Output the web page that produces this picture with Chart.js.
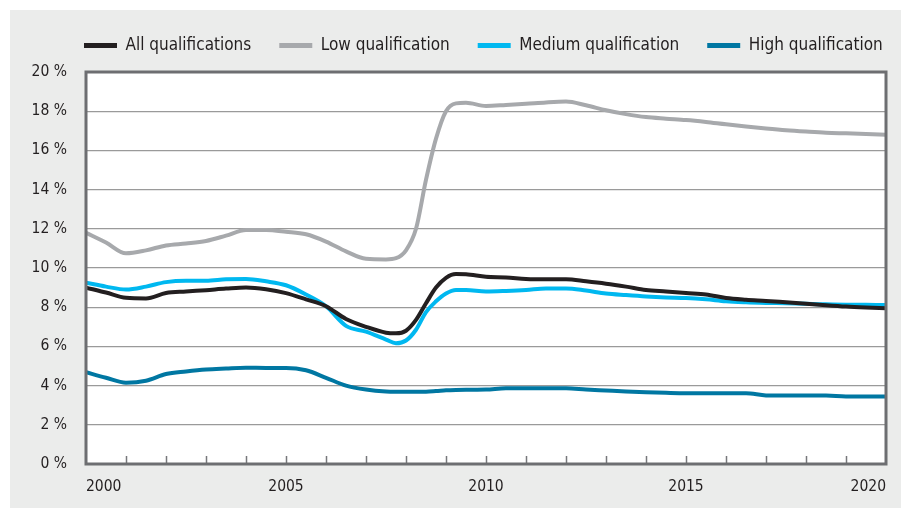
<!DOCTYPE html>
<html>
<head>
<meta charset="utf-8">
<title>Unemployment by qualification</title>
<script src="https://cdn.jsdelivr.net/npm/chart.js@4.4.1/dist/chart.umd.min.js"></script>
<style>
    html, body { margin: 0; padding: 0; background: #fff; }
    #wrap { position: absolute; left: 10px; top: 10px; width: 891px; height: 498px; background: #ebeceb; }
    canvas { display: block; }
</style>
</head>
<body>
<div id="wrap"><canvas id="chart" width="891" height="498"></canvas></div>
<script>
// x positions (years), half-yearly, quarterly around the 2008 jump
var years = [2000, 2000.5, 2001, 2001.5, 2002, 2002.5, 2003, 2003.5, 2004, 2004.5,
    2005, 2005.5, 2006, 2006.5, 2007, 2007.5, 2007.75, 2008, 2008.25, 2008.5,
    2008.75, 2009, 2009.25, 2009.5, 2010, 2010.5, 2011, 2011.5, 2012, 2012.5,
    2013, 2013.5, 2014, 2014.5, 2015, 2015.5, 2016, 2016.5, 2017, 2017.5,
    2018, 2018.5, 2019, 2019.5, 2020];

var allQual = [9.0, 8.75, 8.48, 8.45, 8.72, 8.8, 8.87, 8.95, 9.01, 8.92,
    8.72, 8.4, 8.05, 7.4, 7.0, 6.7, 6.67, 6.8, 7.35, 8.2,
    9.0, 9.5, 9.69, 9.68, 9.55, 9.52, 9.44, 9.42, 9.42, 9.32,
    9.2, 9.05, 8.88, 8.8, 8.72, 8.65, 8.47, 8.38, 8.32, 8.25,
    8.18, 8.1, 8.03, 7.98, 7.94];

var lowQual = [11.8, 11.3, 10.75, 10.9, 11.15, 11.25, 11.38, 11.65, 11.94, 11.94,
    11.85, 11.72, 11.35, 10.85, 10.47, 10.44, 10.5, 10.9, 12.0, 14.5,
    16.6, 18.0, 18.4, 18.43, 18.27, 18.32, 18.38, 18.45, 18.49, 18.3,
    18.05, 17.85, 17.7, 17.62, 17.55, 17.45, 17.33, 17.22, 17.12, 17.03,
    16.96, 16.9, 16.87, 16.84, 16.8];

var mediumQual = [9.25, 9.05, 8.9, 9.05, 9.28, 9.35, 9.35, 9.42, 9.44, 9.32,
    9.12, 8.65, 8.05, 7.05, 6.75, 6.35, 6.16, 6.3, 6.85, 7.75,
    8.3, 8.7, 8.88, 8.88, 8.8, 8.83, 8.88, 8.96, 8.96, 8.85,
    8.7, 8.62, 8.55, 8.5, 8.47, 8.4, 8.3, 8.25, 8.22, 8.2,
    8.17, 8.15, 8.13, 8.12, 8.11];

var highQual = [4.68, 4.4, 4.15, 4.25, 4.59, 4.72, 4.82, 4.87, 4.91, 4.9,
    4.9, 4.78, 4.4, 4.0, 3.8, 3.7, 3.69, 3.69, 3.69, 3.69,
    3.72, 3.76, 3.78, 3.79, 3.8, 3.86, 3.86, 3.86, 3.86, 3.8,
    3.75, 3.7, 3.66, 3.63, 3.61, 3.61, 3.61, 3.61, 3.5, 3.49,
    3.49, 3.49, 3.44, 3.44, 3.44];

var seriesNames = ['All qualifications', 'Low qualification', 'Medium qualification', 'High qualification'];
var seriesColors = ['#231f20', '#a7a9ac', '#00b8f0', '#0077a2'];

/**
 * pairs years with values for the linear x scale
 * @param values
 * @returns {Array}
 */
function toPoints(values) {
    var out = [];
    for (var i = 0; i < years.length; i++) {
        out.push({x: years[i], y: values[i]});
    }
    return out;
}

var allSeries = [allQual, lowQual, mediumQual, highQual];
var datasets = [];
for (var i = 0; i < allSeries.length; i++) {
    datasets.push({
        label: seriesNames[i],
        data: toPoints(allSeries[i]),
        borderColor: seriesColors[i],
        backgroundColor: seriesColors[i],
        borderWidth: 4,
        pointRadius: 0,
        fill: false,
        cubicInterpolationMode: 'monotone'
    });
}

// white plot area, dark frame and the small inward year ticks
var framePlugin = {
    id: 'frame',
    beforeDraw: function (chart) {
        var a = chart.chartArea, ctx = chart.ctx;
        ctx.save();
        ctx.fillStyle = '#ffffff';
        ctx.fillRect(a.left, a.top, a.right - a.left, a.bottom - a.top);
        ctx.restore();
    },
    afterDatasetsDraw: function (chart) {
        var a = chart.chartArea, ctx = chart.ctx, xs = chart.scales.x;
        ctx.save();
        ctx.beginPath();
        ctx.strokeStyle = '#77787b';
        ctx.lineWidth = 1.5;
        for (var yr = 2001; yr < 2020; yr++) {
            var px = Math.round(xs.getPixelForValue(yr)) + 0.5;
            ctx.moveTo(px, a.bottom);
            ctx.lineTo(px, a.bottom - 8);
        }
        ctx.stroke();
        ctx.lineWidth = 3;
        ctx.strokeStyle = '#6d6e71';
        ctx.strokeRect(a.left, a.top, a.right - a.left, a.bottom - a.top);
        ctx.restore();
    }
};

// legend: one row, fixed height, placed over the left edge of the plot
var legendPlace = {
    id: 'legendPlace',
    beforeInit: function (chart) {
        var fit = chart.legend.fit;
        chart.legend.fit = function () {
            this.maxWidth = 1200;
            fit.call(this);
            this.height = 62;
        };
    },
    afterLayout: function (chart) {
        chart.legend.left = 46;
        chart.legend.right = 1200;
        chart.legend.top = -1;
    }
};

Chart.defaults.font.family = "'DejaVu Sans Condensed', 'Liberation Sans', sans-serif";
Chart.defaults.color = '#231f20';

var ctx = document.getElementById('chart').getContext('2d');
var chart = new Chart(ctx, {
    type: 'line',
    data: {datasets: datasets},
    options: {
        responsive: false,
        animation: false,
        layout: {padding: {left: 0, right: 15, top: 0, bottom: 0}},
        plugins: {
            tooltip: {enabled: false},
            legend: {
                position: 'top',
                align: 'start',
                labels: {
                    boxWidth: 33,
                    boxHeight: 5,
                    padding: 28,
                    font: {size: 17},
                    color: '#231f20',
                    generateLabels: function (c) {
                        var items = Chart.defaults.plugins.legend.labels.generateLabels(c);
                        items.forEach(function (it) {
                            it.fillStyle = it.strokeStyle;
                            it.lineWidth = 0;
                        });
                        return items;
                    }
                }
            }
        },
        scales: {
            x: {
                type: 'linear',
                min: 2000,
                max: 2020,
                grid: {display: false, drawTicks: false},
                border: {display: false},
                ticks: {
                    stepSize: 1,
                    autoSkip: false,
                    maxRotation: 0,
                    align: 'inner',
                    padding: 14,
                    font: {size: 15.5},
                    callback: function (v) {
                        return v % 5 === 0 ? String(v) : '';
                    }
                },
                afterFit: function (scale) { scale.height = 44; }
            },
            y: {
                min: 0,
                max: 20,
                grid: {color: '#9a9a9a', lineWidth: 1.3, drawTicks: false},
                border: {display: false},
                ticks: {
                    stepSize: 2,
                    padding: 19,
                    font: {size: 15.5},
                    callback: function (v) { return v + ' %'; }
                },
                afterFit: function (scale) { scale.width = 76; }
            }
        }
    },
    plugins: [framePlugin, legendPlace]
});
</script>
</body>
</html>
